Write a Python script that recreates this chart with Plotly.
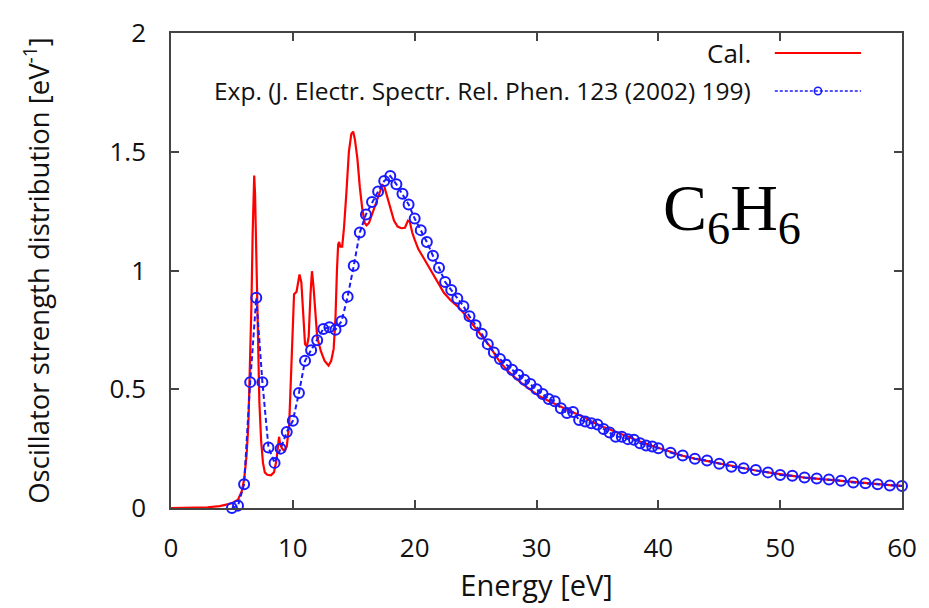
import plotly.graph_objects as go

# Calculated oscillator strength distribution (red curve)
cal_energy = [0, 1, 2, 3, 4, 4.5, 5.0, 5.5, 5.8, 6.0, 6.2, 6.35, 6.5, 6.6, 6.7, 6.78, 6.83, 6.9,
              6.98, 7.05, 7.15, 7.25, 7.4, 7.55, 7.7, 7.9, 8.2, 8.45, 8.65, 8.8, 8.87, 8.95, 9.1,
              9.3, 9.5, 9.7, 9.85, 10.0, 10.1, 10.3, 10.45, 10.55, 10.7, 10.85, 11.0, 11.15, 11.3,
              11.45, 11.57, 11.7, 11.85, 12.0, 12.3, 12.6, 12.93, 13.15, 13.35, 13.5, 13.62, 13.72,
              13.8, 13.9, 14.05, 14.2, 14.4, 14.6, 14.8, 14.95, 15.1, 15.3, 15.5, 15.7, 15.9, 16.05,
              16.25, 16.5, 16.8, 17.1, 17.35, 17.5, 17.7, 17.9, 18.1, 18.3, 18.6, 18.9, 19.2, 19.45,
              19.6, 19.8, 20.0, 20.3, 20.65, 21.0, 21.3, 21.87, 22.4, 22.95, 23.5, 24.0, 24.5, 25.1,
              25.7, 26.2, 26.6, 27.0, 27.5, 28.1, 28.8, 29.46, 30.1, 30.8, 31.5, 32.2, 33.0, 33.8,
              34.6, 35.4, 36.5, 37.6, 38.5, 39.3, 40, 41, 42, 43, 44, 45, 46, 47, 48, 49, 50, 51,
              52, 53, 54, 55, 56, 57, 58, 59, 60]
cal_osc = [0.0, 0.0, 0.001, 0.003, 0.008, 0.013, 0.02, 0.035, 0.07, 0.12, 0.22, 0.35, 0.6, 0.85,
           1.15, 1.35, 1.40, 1.32, 1.1, 0.85, 0.62, 0.45, 0.28, 0.19, 0.15, 0.14, 0.138, 0.15, 0.2,
           0.28, 0.30, 0.27, 0.252, 0.24, 0.258, 0.35, 0.55, 0.8, 0.9, 0.91, 0.96, 0.983, 0.95, 0.8,
           0.69, 0.68, 0.72, 0.9, 0.997, 0.93, 0.8, 0.72, 0.66, 0.62, 0.6, 0.62, 0.67, 0.8, 1.0,
           1.11, 1.12, 1.10, 1.10, 1.18, 1.33, 1.5, 1.575, 1.585, 1.55, 1.47, 1.35, 1.26, 1.2, 1.19,
           1.2, 1.235, 1.28, 1.32, 1.36, 1.355, 1.32, 1.28, 1.25, 1.21, 1.185, 1.178, 1.18, 1.21,
           1.205, 1.16, 1.13, 1.09, 1.06, 1.03, 1.004, 0.95, 0.906, 0.875, 0.85, 0.822, 0.79, 0.751,
           0.715, 0.68, 0.645, 0.615, 0.585, 0.555, 0.525, 0.498, 0.475, 0.456, 0.438, 0.421, 0.402,
           0.385, 0.362, 0.343, 0.32, 0.30, 0.28, 0.265, 0.253, 0.235, 0.22, 0.208, 0.198, 0.186,
           0.175, 0.167, 0.158, 0.15, 0.141, 0.135, 0.128, 0.123, 0.118, 0.113, 0.108, 0.104, 0.1,
           0.096, 0.093]

# Experimental data (blue circles)
exp_energy = [5.0, 5.5, 6.0, 6.5, 7.0, 7.5, 8.0, 8.5, 9.0, 9.5, 10.0, 10.5, 11.0, 11.5, 12.0,
              12.5, 13.0, 13.5, 14.0, 14.5, 15.0, 15.5, 16.0, 16.5, 17.0, 17.5, 18.0, 18.5, 19.0,
              19.5, 20.0, 20.5, 21.0, 21.5, 22.0, 22.5, 23.0, 23.5, 24.0, 24.5, 25.0, 25.5, 26.0,
              26.5, 27.0, 27.5, 28.0, 28.5, 29.0, 29.5, 30.0, 30.5, 31.0, 31.5, 32.0, 32.5, 33.0,
              33.5, 34.0, 34.5, 35.0, 35.5, 36.0, 36.5, 37.0, 37.5, 38.0, 38.5, 39.0, 39.5, 40.0,
              41, 42, 43, 44, 45, 46, 47, 48, 49, 50, 51, 52, 53, 54, 55, 56, 57, 58, 59, 60]
exp_osc = [0.0, 0.01, 0.10, 0.53, 0.885, 0.53, 0.255, 0.19, 0.25, 0.32, 0.367, 0.484, 0.62, 0.664,
           0.706, 0.754, 0.761, 0.751, 0.786, 0.89, 1.02, 1.16, 1.236, 1.288, 1.333, 1.377, 1.398,
           1.363, 1.323, 1.278, 1.219, 1.17, 1.12, 1.062, 1.012, 0.952, 0.918, 0.882, 0.85, 0.807,
           0.77, 0.734, 0.69, 0.655, 0.627, 0.603, 0.582, 0.561, 0.54, 0.522, 0.50, 0.48, 0.459,
           0.449, 0.42, 0.40, 0.404, 0.371, 0.364, 0.357, 0.352, 0.333, 0.318, 0.30, 0.30, 0.29,
           0.287, 0.273, 0.263, 0.259, 0.252, 0.233, 0.221, 0.207, 0.20, 0.186, 0.174, 0.167, 0.16,
           0.15, 0.139, 0.136, 0.128, 0.124, 0.12, 0.115, 0.107, 0.104, 0.10, 0.095, 0.093]

x_ticks = [0, 10, 20, 30, 40, 50, 60]
y_ticks = [0, 0.5, 1, 1.5, 2]
y_tick_labels = ["0", "0.5", "1", "1.5", "2"]

cal_name = "Cal."
exp_name = "Exp. (J. Electr. Spectr. Rel. Phen. 123 (2002) 199)"

RED = "#ff0000"
BLUE = "#1a1aff"
FONT = "Open Sans"
TXT = "#111"

fig = go.Figure()
fig.add_trace(go.Scatter(x=cal_energy, y=cal_osc, mode="lines", name=cal_name,
                         line=dict(color=RED, width=2.2), showlegend=False, cliponaxis=True))
fig.add_trace(go.Scatter(x=exp_energy, y=exp_osc, mode="lines+markers", name=exp_name,
                         line=dict(color=BLUE, width=2, dash="5px,3px"),
                         marker=dict(symbol="circle-open", size=10, color=BLUE, line=dict(width=2)),
                         showlegend=False, cliponaxis=False))

# Manual gnuplot-style legend (text on the left, sample on the right)
x_text = 0.796
x_s0, x_s1 = 0.826, 0.944
y_cal, y_exp = 0.958, 0.878
fig.add_annotation(xref="paper", yref="paper", x=x_text, y=y_cal, text=cal_name, showarrow=False,
                   xanchor="right", yanchor="middle", font=dict(family=FONT, size=26, color=TXT))
fig.add_annotation(xref="paper", yref="paper", x=x_text, y=y_exp, text=exp_name, showarrow=False,
                   xanchor="right", yanchor="middle", font=dict(family=FONT, size=24.5, color=TXT))
fig.add_shape(type="line", xref="paper", yref="paper", x0=x_s0, x1=x_s1, y0=y_cal, y1=y_cal,
              line=dict(color=RED, width=2))
fig.add_shape(type="line", xref="paper", yref="paper", x0=x_s0, x1=x_s1, y0=y_exp, y1=y_exp,
              line=dict(color=BLUE, width=1.5, dash="3px,2px"))
xc = (x_s0 + x_s1) / 2
fig.add_shape(type="circle", xref="paper", yref="paper", x0=xc - 0.005, x1=xc + 0.005,
              y0=y_exp - 0.008, y1=y_exp + 0.008, line=dict(color=BLUE, width=1.5))

# Molecule label
fig.add_annotation(xref="paper", yref="paper", x=0.767, y=0.622, xanchor="center", yanchor="middle",
                   text="C<sub>6</sub>H<sub>6</sub>", showarrow=False,
                   font=dict(family="Liberation Serif", size=66, color="black"))

axis_common = dict(showline=True, linecolor="#444", linewidth=1.5, mirror="ticks",
                   ticks="inside", ticklen=8, tickwidth=1.5, tickcolor="#444",
                   showgrid=False, zeroline=False, ticklabeloverflow="allow",
                   tickfont=dict(family=FONT, size=26, color=TXT))

fig.update_xaxes(range=[0, 60], tickvals=x_ticks, ticklabelstandoff=16,
                 title=dict(text="Energy [eV]", font=dict(family=FONT, size=29, color=TXT),
                            standoff=11),
                 **axis_common)
fig.update_yaxes(range=[0, 2], tickvals=y_ticks, ticktext=y_tick_labels, ticklabelstandoff=18,
                 title=dict(text="Oscillator strength distribution [eV<sup>-1</sup>]",
                            font=dict(family=FONT, size=27.5, color=TXT), standoff=52),
                 **axis_common)

fig.update_layout(width=929, height=608, paper_bgcolor="white", plot_bgcolor="white",
                  margin=dict(l=171, r=20, t=33, b=100), showlegend=False)

# remove the default page margin so the figure sits at the window origin
fig.write_html("out.html", config={"displayModeBar": False},
               post_script="document.body.style.margin='0';")
